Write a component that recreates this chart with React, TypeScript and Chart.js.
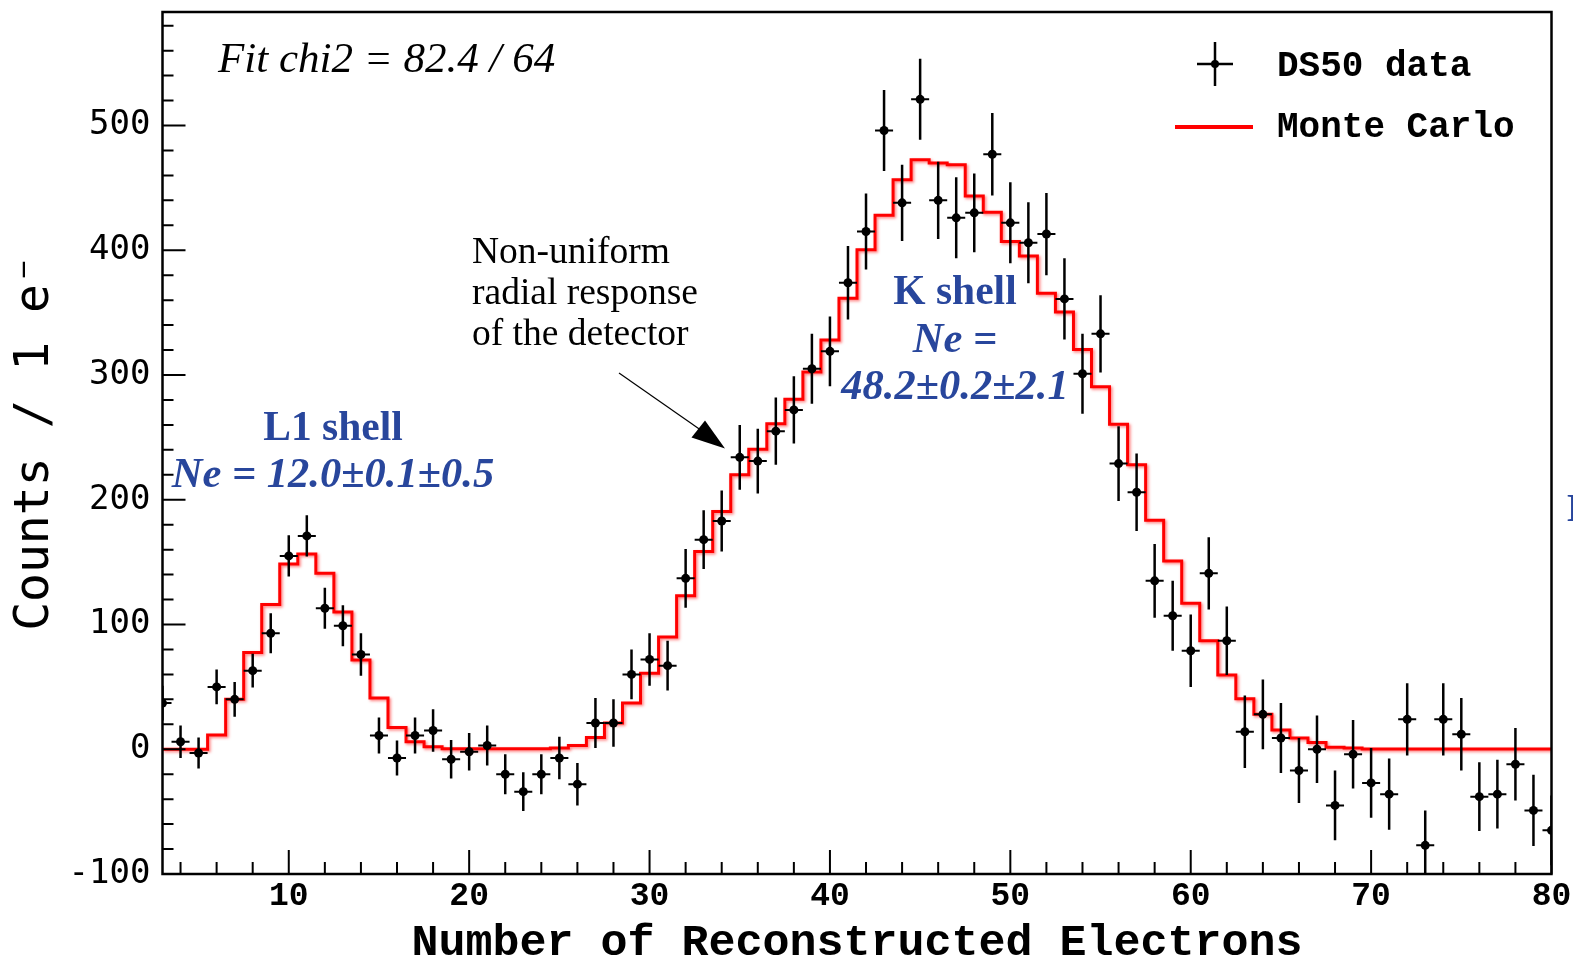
import React, { useEffect, useRef } from 'react';
import { Chart, registerables } from 'chart.js';

Chart.register(...registerables);

// ---- data ----
const BIN_CENTERS = [3, 4, 5, 6, 7, 8, 9, 10, 11, 12, 13, 14, 15, 16, 17, 18, 19, 20, 21, 22, 23, 24, 25, 26, 27, 28, 29, 30, 31, 32, 33, 34, 35, 36, 37, 38, 39, 40, 41, 42, 43, 44, 45, 46, 47, 48, 49, 50, 51, 52, 53, 54, 55, 56, 57, 58, 59, 60, 61, 62, 63, 64, 65, 66, 67, 68, 69, 70, 71, 72, 73, 74, 75, 76, 77, 78, 79, 80];

const DS50_COUNTS = [37, 6, -3, 50, 40, 63, 93, 155, 171, 113, 99, 76, 11, -7, 11, 15, -8, -2, 3, -20, -34, -20, -7, -28, 21, 21, 60, 72, 67, 137, 168, 183, 234, 231, 255, 272, 305, 319, 374, 415, 496, 438, 521, 440, 426, 430, 477, 422, 406, 413, 361, 301, 333, 229, 206, 135, 107, 79, 141, 87, 14, 28, 9, -17, 0, -45, -4, -27, -36, 24, -77, 24, 12, -38, -36, -12, -49, -65];

const DS50_ERRORS = [14, 13, 12.5, 14, 14, 13.5, 16, 16.5, 16.5, 16.5, 16.5, 17, 14.5, 14, 14.5, 17, 15.5, 15, 16, 16, 15.5, 16, 17, 17, 20, 19, 20, 21, 20, 23.5, 23.5, 24.5, 26, 26, 27, 27, 28, 28, 29.5, 30.5, 32.5, 30.5, 32.5, 31, 32.5, 31.5, 33, 32.5, 32.5, 33, 32.5, 32, 31, 30, 31, 29.5, 28, 29, 29, 27.5, 29, 28, 28, 26, 27, 28, 27.5, 28, 28.5, 29, 28, 29, 29, 27.5, 27.5, 29, 28.5, 28];

const MC_COUNTS = [0, 0, 0, 11.5, 40, 77.5, 116, 148.5, 156.5, 141, 110, 71.5, 41, 17.5, 6, 2, 0.5, 0.5, 0.5, 0.5, 0.5, 0.5, 1, 3, 9.5, 21, 37, 61, 90, 123, 158.5, 190.5, 220, 240.5, 261, 280.5, 302.5, 328, 361.5, 400.5, 428, 456.5, 472.5, 470, 468.5, 443.5, 430.5, 407, 395.5, 365.5, 350.5, 320.5, 290.5, 260.5, 228, 183.5, 151, 117, 87, 59.5, 40.5, 28, 15.5, 9, 5.5, 1.7, 1, 0.3, 0.3, 0.3, 0.3, 0.3, 0.3, 0.3, 0.3, 0.3, 0.3, 0.3];

const X_TICKS = [10, 20, 30, 40, 50, 60, 70, 80];
const Y_TICKS = [-100, 0, 100, 200, 300, 400, 500];

const X_MIN = 3;
const X_MAX = 80;
const Y_MIN = -100;
const Y_MAX = 591;

const BLUE = '#28469c';

const decorPlugin = {
  id: 'decor',
  beforeDatasetDraw(chart: any, args: any) {
    const ctx = chart.ctx;
    const ds = chart.data.datasets[args.index];
    if (ds.label === 'Monte Carlo') {
      ctx.save();
      ctx.shadowColor = 'rgba(255,0,0,0.5)';
      ctx.shadowBlur = 3;
      ctx.shadowOffsetX = 1.5;
      ctx.shadowOffsetY = 1.5;
    }
    if (ds.label === 'DS50 data') {
      const xs = chart.scales.x;
      const ys = chart.scales.y;
      const a = chart.chartArea;
      ctx.save();
      ctx.beginPath();
      ctx.rect(a.left, a.top, a.right - a.left, a.bottom - a.top);
      ctx.clip();
      ctx.strokeStyle = '#000';
      for (let i = 0; i < BIN_CENTERS.length; i++) {
        const x = xs.getPixelForValue(BIN_CENTERS[i]);
        const y0 = ys.getPixelForValue(DS50_COUNTS[i] - DS50_ERRORS[i]);
        const y1 = ys.getPixelForValue(DS50_COUNTS[i] + DS50_ERRORS[i]);
        const y = ys.getPixelForValue(DS50_COUNTS[i]);
        const xl = xs.getPixelForValue(BIN_CENTERS[i] - 0.5);
        const xr = xs.getPixelForValue(BIN_CENTERS[i] + 0.5);
        ctx.lineWidth = 2.5;
        ctx.beginPath();
        ctx.moveTo(x, y0);
        ctx.lineTo(x, y1);
        ctx.stroke();
        ctx.lineWidth = 2;
        ctx.beginPath();
        ctx.moveTo(xl, y);
        ctx.lineTo(xr, y);
        ctx.stroke();
      }
      ctx.restore();
    }
  },
  afterDatasetDraw(chart: any, args: any) {
    const ds = chart.data.datasets[args.index];
    if (ds.label === 'Monte Carlo') chart.ctx.restore();
  },
  afterDraw(chart: any) {
    const ctx = chart.ctx;
    const a = chart.chartArea;
    const xs = chart.scales.x;
    const ys = chart.scales.y;
    ctx.save();
    // frame
    ctx.strokeStyle = '#000';
    ctx.lineWidth = 2.5;
    ctx.strokeRect(a.left, a.top, a.right - a.left, a.bottom - a.top);
    // inner ticks
    ctx.lineWidth = 2;
    ctx.beginPath();
    for (let v = -100; v <= Y_MAX; v += 20) {
      const y = ys.getPixelForValue(v);
      const len = v % 100 === 0 ? 23 : 11;
      ctx.moveTo(a.left, y);
      ctx.lineTo(a.left + len, y);
    }
    for (let v = 4; v <= 80; v += 2) {
      const x = xs.getPixelForValue(v);
      const len = v % 10 === 0 ? 24 : 12;
      ctx.moveTo(x, a.bottom);
      ctx.lineTo(x, a.bottom - len);
    }
    ctx.stroke();

    // fit text
    ctx.fillStyle = '#000';
    ctx.textBaseline = 'middle';
    ctx.textAlign = 'left';
    ctx.font = 'italic 43px "Liberation Serif"';
    ctx.fillText('Fit chi2 = 82.4 / 64', 218, 61);

    // note
    ctx.font = '37.5px "Liberation Serif"';
    ctx.fillText('Non-uniform', 472, 253);
    ctx.fillText('radial response', 472, 294);
    ctx.fillText('of the detector', 472, 335);

    // arrow
    ctx.lineWidth = 1.2;
    ctx.beginPath();
    ctx.moveTo(619, 373);
    ctx.lineTo(705, 433);
    ctx.stroke();
    ctx.beginPath();
    ctx.moveTo(725, 448.5);
    ctx.lineTo(691.5, 437.5);
    ctx.lineTo(705, 420.5);
    ctx.closePath();
    ctx.fill();

    // shell labels
    ctx.fillStyle = BLUE;
    ctx.textAlign = 'center';
    ctx.font = 'bold 41.5px "Liberation Serif"';
    ctx.fillText('L1 shell', 333, 429);
    ctx.fillText('K shell', 955, 293);
    ctx.font = 'italic bold 42.5px "Liberation Serif"';
    ctx.fillText('Ne = 12.0\u00B10.1\u00B10.5', 333, 476);
    ctx.fillText('Ne =', 955, 341);
    ctx.fillText('48.2\u00B10.2\u00B12.1', 955, 388);
    ctx.textAlign = 'left';
    ctx.font = 'bold 40px "Liberation Serif"';
    ctx.fillText('L', 1567, 511);

    // legend
    ctx.strokeStyle = '#000';
    ctx.fillStyle = '#000';
    ctx.lineWidth = 2.5;
    ctx.beginPath();
    ctx.moveTo(1215, 42);
    ctx.lineTo(1215, 86);
    ctx.moveTo(1197, 64);
    ctx.lineTo(1233, 64);
    ctx.stroke();
    ctx.beginPath();
    ctx.arc(1215, 64, 4, 0, Math.PI * 2);
    ctx.fill();
    ctx.strokeStyle = '#ff0000';
    ctx.lineWidth = 4;
    ctx.beginPath();
    ctx.moveTo(1175, 127);
    ctx.lineTo(1253, 127);
    ctx.stroke();
    ctx.font = 'bold 36px "Liberation Mono"';
    ctx.fillStyle = '#000';
    ctx.fillText('DS50 data', 1277, 67);
    ctx.fillText('Monte Carlo', 1277, 128);
    ctx.restore();
  },
};

export default function App() {
  const ref = useRef<HTMLCanvasElement>(null);
  useEffect(() => {
    document.body.style.margin = '0';
    document.body.style.overflow = 'hidden';
    const canvas = ref.current;
    if (!canvas) return;
    const dataPts = BIN_CENTERS.map((x, i) => ({ x, y: DS50_COUNTS[i] }));
    const mcPts = BIN_CENTERS.map((x, i) => ({ x, y: MC_COUNTS[i] }));
    const chart = new Chart(canvas, {
      type: 'line',
      data: {
        datasets: [
          {
            label: 'DS50 data',
            data: dataPts,
            showLine: false,
            pointRadius: 4.5,
            pointHoverRadius: 4.5,
            pointBackgroundColor: '#000',
            pointBorderColor: '#000',
            pointBorderWidth: 0,
            borderColor: '#000',
            clip: 0,
            order: 0,
          } as any,
          {
            label: 'Monte Carlo',
            data: mcPts,
            stepped: 'middle',
            borderColor: '#ff0000',
            borderWidth: 3,
            pointRadius: 0,
            fill: false,
            clip: 0,
            order: 1,
          } as any,
        ],
      },
      options: {
        animation: false,
        responsive: true,
        maintainAspectRatio: false,
        events: [],
        layout: { padding: { left: 0, top: 12, right: 21.5, bottom: 0 } },
        plugins: {
          legend: { display: false },
          tooltip: { enabled: false },
        },
        scales: {
          x: {
            type: 'linear',
            min: X_MIN,
            max: X_MAX,
            afterFit: (s: any) => {
              s.height = 86;
              s.paddingLeft = 0;
              s.paddingRight = 0;
            },
            afterBuildTicks: (s: any) => {
              s.ticks = X_TICKS.map((v) => ({ value: v }));
            },
            grid: { display: false, drawTicks: false },
            border: { display: false },
            ticks: {
              autoSkip: false,
              maxRotation: 0,
              padding: 6,
              color: '#000',
              font: { family: '"Liberation Mono"', size: 33, weight: 'bold', lineHeight: 1 },
            },
            title: {
              display: true,
              text: 'Number of Reconstructed Electrons',
              color: '#000',
              padding: { top: 0, bottom: 0 },
              font: { family: '"Liberation Mono"', size: 45, weight: 'bold', lineHeight: 0.74 },
            },
          },
          y: {
            type: 'linear',
            min: Y_MIN,
            max: Y_MAX,
            afterFit: (s: any) => {
              s.width = 162.5;
              s.paddingTop = 0;
              s.paddingBottom = 0;
            },
            afterBuildTicks: (s: any) => {
              s.ticks = Y_TICKS.map((v) => ({ value: v }));
            },
            grid: { display: false, drawTicks: false },
            border: { display: false },
            ticks: {
              autoSkip: false,
              padding: 12,
              color: '#000',
              font: { family: '"DejaVu Sans Mono"', size: 34, lineHeight: 1.1 },
            },
            title: {
              display: true,
              text: 'Counts / 1 e\u207B',
              color: '#000',
              padding: { top: 12, bottom: 0 },
              font: { family: '"DejaVu Sans Mono"', size: 48, lineHeight: 1 },
            },
          },
        },
      },
      plugins: [decorPlugin],
    });
    return () => chart.destroy();
  }, []);
  return (
    <div style={{ position: 'relative', width: 1573, height: 960 }}>
      <canvas ref={ref} />
    </div>
  );
}
